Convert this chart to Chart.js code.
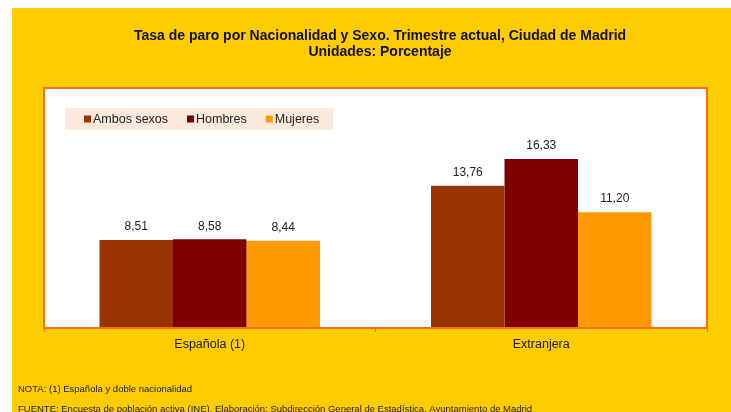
<!DOCTYPE html>
<html>
<head>
<meta charset="utf-8">
<script src="https://cdn.jsdelivr.net/npm/chart.js@4"></script>
<style>
html,body{margin:0;padding:0;background:#fff;}
#wrap{position:absolute;left:12px;top:8px;width:719px;height:404px;background:#FFCC00;}
canvas{display:block;}
</style>
</head>
<body>
<div id="wrap"><canvas id="c" width="719" height="404"></canvas></div>
<script>
const categories = ["Española (1)", "Extranjera"];
const seriesNames = ["Ambos sexos", "Hombres", "Mujeres"];
const ambosSexos = [8.51, 13.76];
const hombres = [8.58, 16.33];
const mujeres = [8.44, 11.20];
const seriesColors = ["#993300", "#800000", "#FF9900"];
const titleLines = ["Tasa de paro por Nacionalidad y Sexo. Trimestre actual, Ciudad de Madrid", "Unidades: Porcentaje"];
const notes = ["NOTA: (1) Española y doble nacionalidad", "FUENTE: Encuesta de población activa (INE). Elaboración: Subdirección General de Estadística. Ayuntamiento de Madrid"];

const FONT = "'Liberation Sans', Arial, sans-serif";
const ORANGE = "#FF6A13";

const fmt = v => v.toFixed(2).replace('.', ',');

const decor = {
  id: 'decor',
  beforeDraw(chart) {
    const ctx = chart.ctx, a = chart.chartArea;
    ctx.save();
    ctx.fillStyle = '#fff';
    ctx.fillRect(a.left, a.top, a.right - a.left, a.bottom - a.top);
    // title
    ctx.fillStyle = '#111';
    ctx.font = "bold 14px " + FONT;
    ctx.textAlign = 'center';
    ctx.textBaseline = 'middle';
    ctx.fillText(titleLines[0], 368, 28);
    ctx.fillText(titleLines[1], 368, 44);
    // notes
    ctx.font = "9.5px " + FONT;
    ctx.textAlign = 'left';
    ctx.fillStyle = '#222';
    ctx.fillText(notes[0], 6, 381);
    ctx.fillText(notes[1], 6, 401);
    ctx.restore();
  },
  afterDraw(chart) {
    const ctx = chart.ctx, a = chart.chartArea;
    ctx.save();
    ctx.strokeStyle = ORANGE;
    ctx.lineWidth = 2;
    ctx.strokeRect(a.left, a.top, a.right - a.left, a.bottom - a.top);
    // legend
    ctx.fillStyle = '#FCE9DD';
    ctx.fillRect(a.left + 21, a.top + 20, 268, 22);
    ctx.font = "12.5px " + FONT;
    ctx.textBaseline = 'middle';
    ctx.textAlign = 'left';
    let x = a.left + 40;
    const y = a.top + 31;
    chart.data.datasets.forEach(ds => {
      ctx.fillStyle = ds.backgroundColor;
      ctx.fillRect(x, y - 3.5, 7, 7);
      ctx.fillStyle = '#222';
      ctx.fillText(ds.label, x + 9, y + 0.5);
      x += 9 + ctx.measureText(ds.label).width + 19;
    });
    // value labels
    ctx.font = "12px " + FONT;
    ctx.textAlign = 'center';
    ctx.textBaseline = 'bottom';
    ctx.fillStyle = '#222';
    chart.data.datasets.forEach((ds, i) => {
      chart.getDatasetMeta(i).data.forEach((bar, j) => {
        ctx.fillText(fmt(ds.data[j]), bar.x, bar.y - 7);
      });
    });
    ctx.restore();
  }
};

new Chart(document.getElementById('c'), {
  type: 'bar',
  data: {
    labels: categories,
    datasets: [
      { label: seriesNames[0], data: ambosSexos, backgroundColor: seriesColors[0] },
      { label: seriesNames[1], data: hombres, backgroundColor: seriesColors[1] },
      { label: seriesNames[2], data: mujeres, backgroundColor: seriesColors[2] }
    ]
  },
  options: {
    responsive: false,
    animation: false,
    devicePixelRatio: 1,
    categoryPercentage: 0.665,
    barPercentage: 1.0,
    layout: { padding: { left: 32, top: 80, right: 24, bottom: 46 } },
    plugins: { legend: { display: false }, tooltip: { enabled: false }, title: { display: false } },
    scales: {
      y: { display: false, min: 0, max: 23.2 },
      x: {
        afterFit(s) { s.height = 38; },
        grid: { drawOnChartArea: false, color: ORANGE, tickLength: 4, offset: true, lineWidth: 1 },
        border: { color: ORANGE, width: 2 },
        ticks: { color: '#222', font: { family: FONT, size: 12.5 }, padding: 5 }
      }
    }
  },
  plugins: [decor]
});
</script>
</body>
</html>
